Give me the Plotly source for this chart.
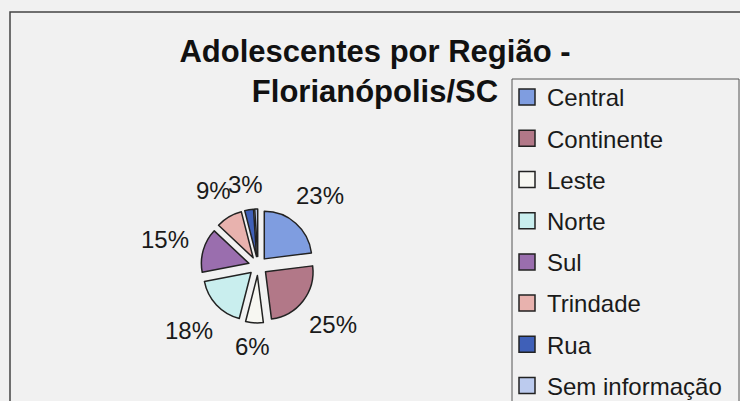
import math
import plotly.graph_objects as go

# ---- data ----
regions = ["Central", "Continente", "Leste", "Norte", "Sul", "Trindade", "Rua", "Sem informação"]
shares = [23, 25, 6, 18, 15, 9, 3, 1]
share_labels = ["23%", "25%", "6%", "18%", "15%", "9%", "3%", ""]
colors = ["#7f9de0", "#b27888", "#f7f7f2", "#c9eeee", "#9a6eae", "#e8b2ae", "#3f60b8", "#bccbee"]

W, H = 740, 401
FONT = "Arial, Liberation Sans, sans-serif"
BG = "#f1f1f1"
EDGE = "#222222"
LABEL_SIZE = 24

fig = go.Figure()

# pie centre (258,266) px, half-size 57 px
cx, cy, half = 258, 266, 57
fig.add_trace(go.Pie(
    labels=regions,
    values=shares,
    textinfo="none",
    sort=False,
    direction="clockwise",
    rotation=0,
    pull=[0.2] * len(regions),
    marker=dict(colors=colors, line=dict(color=EDGE, width=1.5)),
    showlegend=False,
    hoverinfo="label+percent",
    domain=dict(x=[(cx - half) / W, (cx + half) / W],
                y=[(H - cy - half) / H, (H - cy + half) / H]),
))

# outside percentage labels, placed Excel-style at each slice's mid angle
total = float(sum(shares))
label_r = 71
annotations = []
cum = 0.0
for v, lab in zip(shares, share_labels):
    mid = 2 * math.pi * (cum + v / 2) / total
    cum += v
    if not lab:
        continue
    dx, dy = math.sin(mid), -math.cos(mid)
    w = LABEL_SIZE * (0.556 * (len(lab) - 1) + 0.889)
    h = LABEL_SIZE * 0.72
    d = label_r + abs(dx) * w / 2 + abs(dy) * h / 2
    px, py = cx + d * dx, cy + d * dy
    annotations.append(dict(
        x=px / W, y=1 - py / H, xref="paper", yref="paper",
        text=lab, showarrow=False, xanchor="center", yanchor="middle",
        font=dict(family=FONT, size=LABEL_SIZE, color="#1a1a1a"),
    ))

# legend entries (one per region, same colours)
for name, col in zip(regions, colors):
    fig.add_trace(go.Scatter(
        x=[None], y=[None], mode="markers", name=name, legendgroup=name,
        marker=dict(symbol="square", size=17, color=col, line=dict(color=EDGE, width=1.5)),
    ))

fig.update_layout(
    width=W, height=H,
    margin=dict(l=0, r=0, t=0, b=0, autoexpand=False),
    paper_bgcolor=BG, plot_bgcolor=BG,
    xaxis=dict(visible=False), yaxis=dict(visible=False),
    title=dict(
        text="<b>Adolescentes por Região -<br>Florianópolis/SC</b>",
        x=375 / W, xanchor="center", xref="container",
        y=1 - 62 / H, yanchor="middle", yref="container",
        font=dict(family=FONT, size=31, color="#111111"),
    ),
    legend=dict(
        x=507 / W, xanchor="left", y=1 - 75 / H, yanchor="top",
        bgcolor="rgba(0,0,0,0)", borderwidth=0,
        font=dict(family=FONT, size=24, color="#1a1a1a"),
        tracegroupgap=7,
        itemsizing="trace",
    ),
    annotations=annotations,
    shapes=[
        dict(type="rect", xref="paper", yref="paper",
             x0=10 / W, x1=1.05, y0=-0.05, y1=1 - 12 / H,
             line=dict(color="#444444", width=1.5), fillcolor="rgba(0,0,0,0)", layer="below"),
        dict(type="rect", xref="paper", yref="paper",
             x0=512 / W, x1=739 / W, y0=-0.05, y1=1 - 79 / H,
             line=dict(color="#555555", width=1), fillcolor=BG, layer="below"),
    ],
)

fig.write_html("out.html")
